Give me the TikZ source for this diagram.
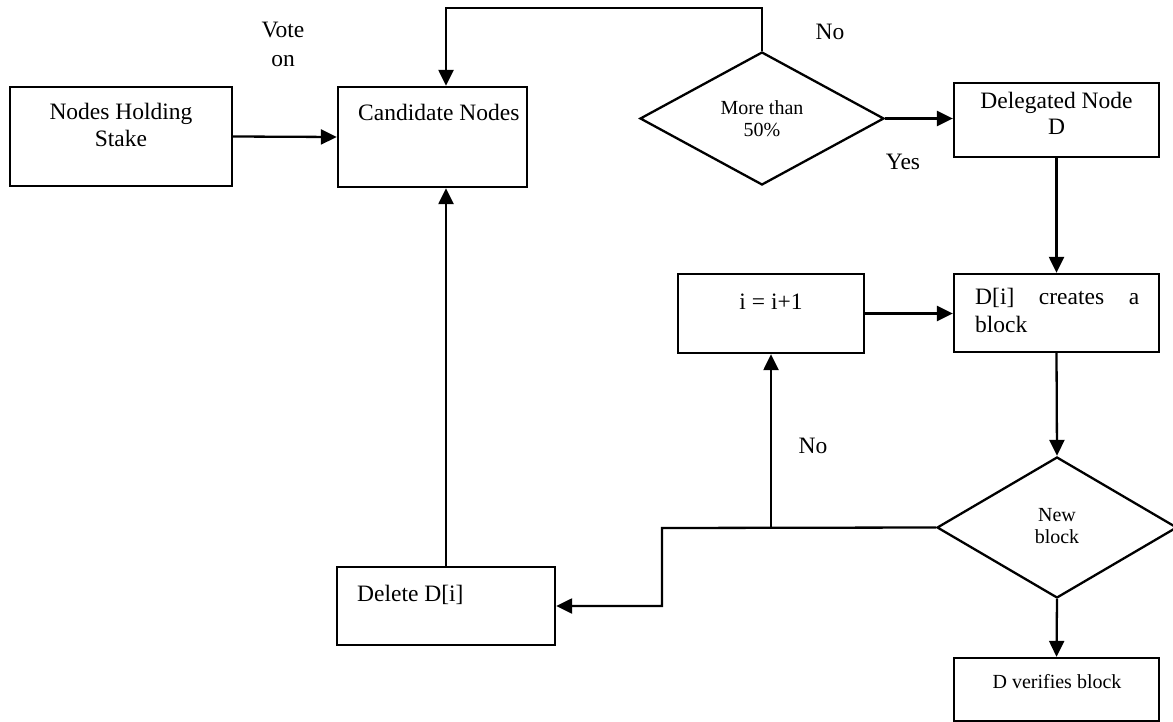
\documentclass[tikz,border=0pt]{standalone}
\usepackage{fontspec}
\setmainfont{Liberation Serif}
\usetikzlibrary{arrows.meta,shapes.geometric}

\begin{document}
\begin{tikzpicture}[x=1pt,y=-1pt,
  box/.style={draw,line width=2.3pt,rectangle,inner sep=0pt},
  decision/.style={draw,line width=2.3pt,diamond,inner sep=0pt},
  txt/.style={anchor=base,inner sep=0pt,font=\fontsize{23.5}{27}\selectfont},
  txtl/.style={anchor=base west,inner sep=0pt,font=\fontsize{23.5}{27}\selectfont},
  small/.style={anchor=base,inner sep=0pt,font=\fontsize{20}{24}\selectfont},
  flow/.style={line width=2.3pt,-{Triangle[length=16pt,width=15pt]}}]
\useasboundingbox (0,0) rectangle (1173,722);

% boxes
\node[box,minimum width=222pt,minimum height=99pt] (stake) at (121,136.5) {};
\node[box,minimum width=189pt,minimum height=100pt] (cand) at (432.5,137) {};
\node[box,minimum width=205pt,minimum height=74pt] (deleg) at (1056.5,120) {};
\node[box,minimum width=205pt,minimum height=78pt] (dblock) at (1056.5,313) {};
\node[box,minimum width=186pt,minimum height=79pt] (inc) at (771,313.5) {};
\node[box,minimum width=218pt,minimum height=78pt] (del) at (446,606) {};
\node[box,minimum width=205pt,minimum height=63pt] (verify) at (1056.5,689.5) {};

% decisions
\node[decision,minimum width=244pt,minimum height=133pt] (maj) at (762,118.5) {};
\node[decision,minimum width=240pt,minimum height=141pt] (newb) at (1057,527.5) {};

% box texts
\node[txt] (t1a) at (121,120) {Nodes Holding};
\node[txt] (t1b) at (121,147) {Stake};
\node[txtl] (t2) at (358,121) {Candidate Nodes};
\node[txt] (t3a) at (1056.5,109) {Delegated Node};
\node[txt] (t3b) at (1056.5,135) {D};
\node[txtl] (t4a) at (975,305) {\makebox[164pt][s]{D[i]\hfill creates\hfill a}};
\node[txtl] (t4b) at (975,332) {block};
\node[txt] (t5) at (771,309) {i = i+1};
\node[txtl] (t6) at (357,601) {Delete D[i]};
\node[small] (t7) at (1057,688) {D verifies block};
\node[small] (t8a) at (762,115) {More than};
\node[small] (t8b) at (762,137) {50\%};
\node[small] (t9a) at (1057,521) {New};
\node[small] (t9b) at (1057,543) {block};

% free labels
\node[txt] (vote1) at (283,38) {Vote};
\node[txt] (vote2) at (283,67) {on};
\node[txt] (no1) at (830,40) {No};
\node[txt] (yes) at (903,170) {Yes};
\node[txt] (no2) at (813,453) {No};

% connectors
\coordinate (loopT) at (446,8);
\coordinate (jn) at (771,528);
\coordinate (bend) at (662,528);

\draw[flow] (stake.east) -- (cand.west);
\draw[flow] (maj.north) |- (loopT) -- (cand.north -| loopT);
\draw[flow] (maj.east) -- (deleg.west |- maj.east);
\draw[flow] (deleg.south) -- (dblock.north);
\draw[flow] (inc.east) -- (dblock.west |- inc.east);
\draw[flow] (dblock.south) -- (newb.north);
\draw[flow] (newb.west) -- (bend) |- (del.east);
\draw[flow] (jn) -- (inc.south);
\draw[flow] (del.north) -- (cand.south -| del.north);
\draw[flow] (newb.south) -- (verify.north);
\end{tikzpicture}
\end{document}
